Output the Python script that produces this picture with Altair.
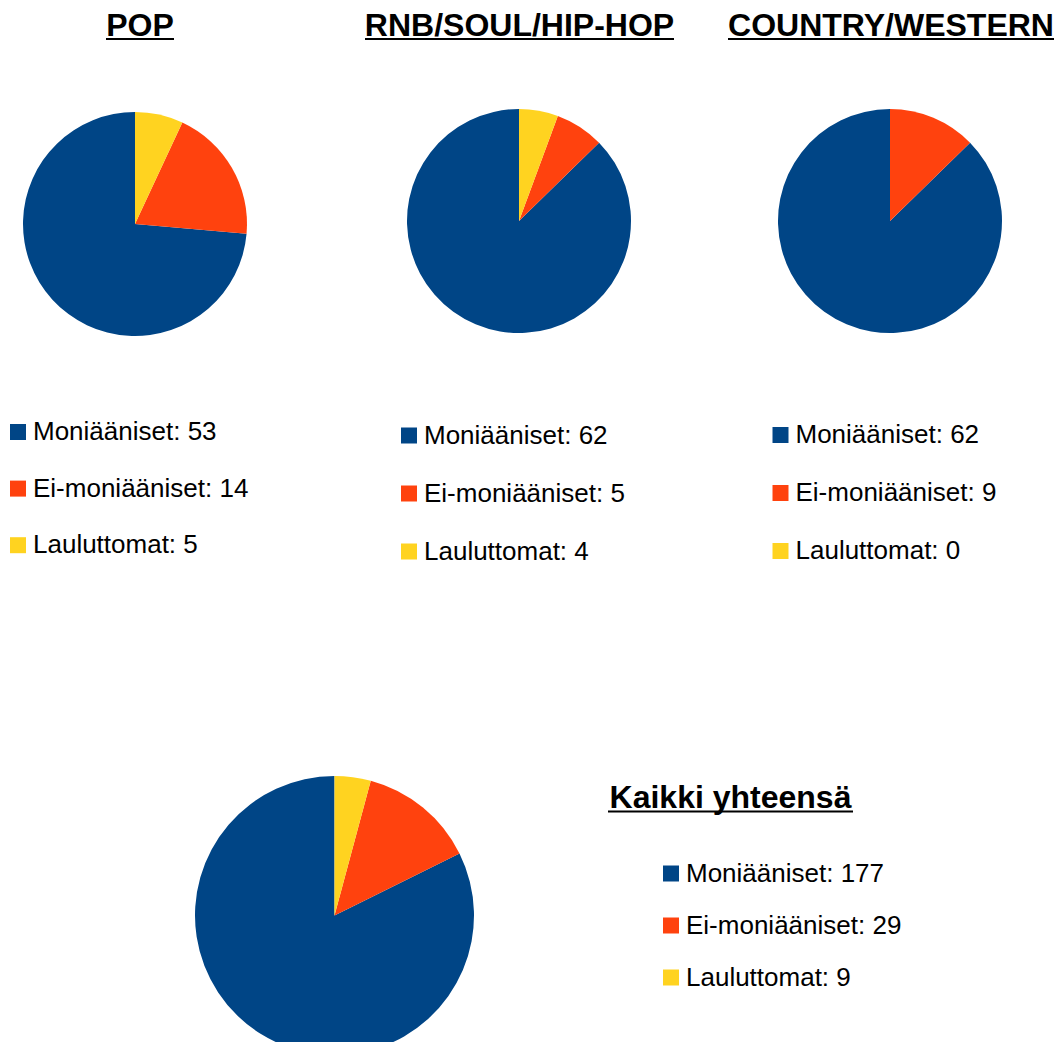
import altair as alt
import pandas as pd

# ---- data ----
panels = ["POP", "RNB/SOUL/HIP-HOP", "COUNTRY/WESTERN", "Kaikki yhteensä"]
categories = ["Moniääniset", "Ei-moniääniset", "Lauluttomat"]
pop_values = [53, 14, 5]
rnb_values = [62, 5, 4]
country_values = [62, 9, 0]
total_values = [177, 29, 9]
all_values = [pop_values, rnb_values, country_values, total_values]
slice_order = [3, 2, 1]  # clockwise from 12 o'clock: Lauluttomat, Ei-moniääniset, Moniääniset
colors = ["#004586", "#ff420e", "#ffd320"]

rows = []
for p, vals in zip(panels, all_values):
    for c, v, o in zip(categories, vals, slice_order):
        rows.append({"panel": p, "category": c, "value": v, "order": o,
                     "label": f"{c}: {v}"})
df = pd.DataFrame(rows)

# ---- layout (chart coordinates, page minus 8px margin) ----
pie_layout = {
    "POP": dict(cx=127, cy=216, r=112),
    "RNB/SOUL/HIP-HOP": dict(cx=511, cy=213, r=112),
    "COUNTRY/WESTERN": dict(cx=882, cy=213, r=112),
    "Kaikki yhteensä": dict(cx=326.5, cy=907.5, r=139.5),
}
legend_layout = {
    "POP": dict(x=-3, y=411, pad=30.6),
    "RNB/SOUL/HIP-HOP": dict(x=388, y=414.5, pad=32),
    "COUNTRY/WESTERN": dict(x=759.5, y=414, pad=32),
    "Kaikki yhteensä": dict(x=650, y=852.5, pad=26),
}
title_layout = {
    "POP": dict(x=132, y=28, ux1=98, ux2=166, uy=31),
    "RNB/SOUL/HIP-HOP": dict(x=511.5, y=28, ux1=357, ux2=666, uy=31),
    "COUNTRY/WESTERN": dict(x=883, y=28, ux1=720, ux2=1046, uy=31),
    "Kaikki yhteensä": dict(x=722.5, y=800, ux1=600, ux2=845, uy=803.5),
}

FONT = "Liberation Sans"
layers = []
for p, vals in zip(panels, all_values):
    pl = pie_layout[p]
    lg = legend_layout[p]
    labels = [f"{c}: {v}" for c, v in zip(categories, vals)]
    pie = alt.Chart(df).transform_filter(
        alt.datum.panel == p
    ).mark_arc(stroke=None).encode(
        theta=alt.Theta("value:Q", stack=True),
        color=alt.Color(
            "label:N",
            scale=alt.Scale(domain=labels, range=colors),
            legend=alt.Legend(
                orient="none", legendX=lg["x"], legendY=lg["y"], title=None,
                symbolType="square", symbolSize=256, symbolStrokeWidth=0,
                labelFont=FONT, labelFontSize=26, labelColor="#000000",
                labelOffset=2, rowPadding=lg["pad"], padding=0,
                labelLimit=400,
            ),
        ),
        order=alt.Order("order:Q"),
        x=alt.value(pl["cx"]),
        y=alt.value(pl["cy"]),
        radius=alt.value(pl["r"]),
    )
    layers.append(pie)

title_df = pd.DataFrame({"panel": panels})
for p in panels:
    tl = title_layout[p]
    t = alt.Chart(title_df).transform_filter(alt.datum.panel == p).mark_text(
        font=FONT, fontSize=32, fontWeight="bold", color="#000000",
        align="center", baseline="alphabetic",
    ).encode(text="panel:N", x=alt.value(tl["x"]), y=alt.value(tl["y"]))
    u = alt.Chart(title_df).transform_filter(alt.datum.panel == p).mark_rule(
        color="#000000", strokeWidth=2.2,
    ).encode(x=alt.value(tl["ux1"]), x2=alt.value(tl["ux2"]), y=alt.value(tl["uy"]))
    layers += [t, u]

chart = alt.layer(*layers).resolve_scale(
    theta="independent", color="independent"
).resolve_legend(color="independent").properties(
    width=1048, height=1034, padding=0,
    autosize=alt.AutoSizeParams(type="none"),
).configure_view(stroke=None)

chart.save("out.html", embed_options={"renderer": "svg", "actions": False})
